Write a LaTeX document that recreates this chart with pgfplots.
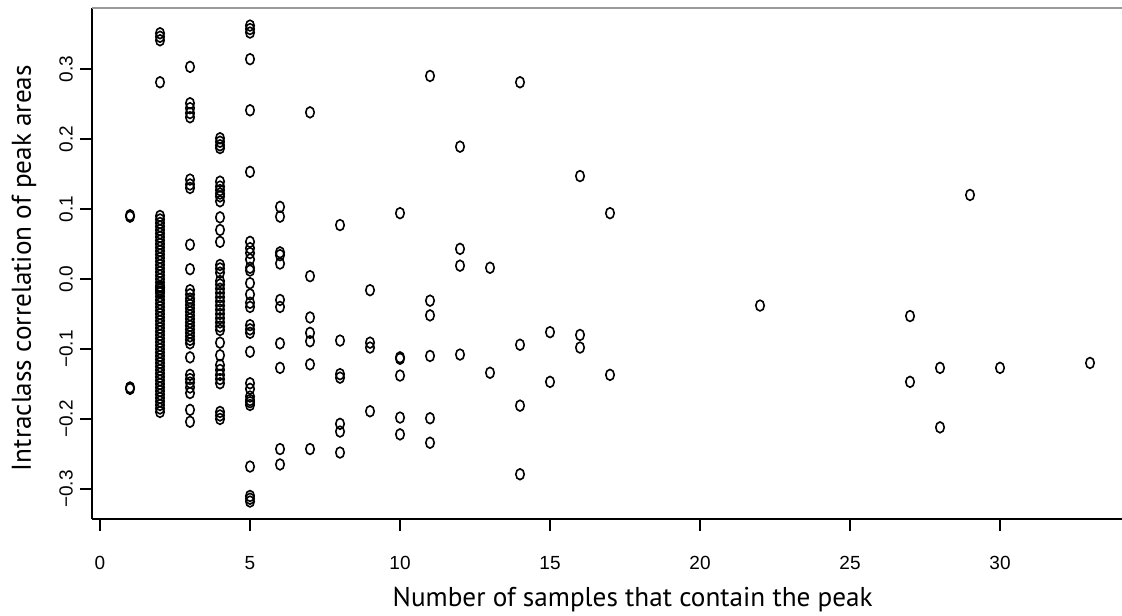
\documentclass[border=0pt]{standalone}
\usepackage{fontspec}
\setmainfont{Liberation Sans}
\newfontfamily\labelfont{PT Sans}
\usepackage{pgfplots}
\pgfplotsset{compat=1.18}
\usepackage{pgfplotstable}

% peaks: number of samples containing the peak (x) vs intraclass correlation (y)
\pgfplotstableread{
x y
1 0.091
1 0.089
1 -0.155
1 -0.157
2 0.351
2 0.346
2 0.341
2 0.281
2 0.090
2 0.085
2 0.080
2 0.075
2 0.070
2 0.065
2 0.060
2 0.055
2 0.050
2 0.045
2 0.040
2 0.035
2 0.030
2 0.025
2 0.020
2 0.015
2 0.010
2 0.005
2 0.000
2 -0.005
2 -0.010
2 -0.012
2 -0.015
2 -0.018
2 -0.020
2 -0.025
2 -0.030
2 -0.035
2 -0.040
2 -0.045
2 -0.050
2 -0.055
2 -0.060
2 -0.065
2 -0.070
2 -0.075
2 -0.080
2 -0.085
2 -0.090
2 -0.095
2 -0.100
2 -0.105
2 -0.110
2 -0.115
2 -0.120
2 -0.125
2 -0.130
2 -0.135
2 -0.140
2 -0.145
2 -0.150
2 -0.155
2 -0.160
2 -0.165
2 -0.170
2 -0.175
2 -0.180
2 -0.185
2 -0.190
3 0.303
3 0.251
3 0.244
3 0.237
3 0.231
3 0.142
3 0.135
3 0.130
3 0.049
3 0.014
3 -0.016
3 -0.022
3 -0.028
3 -0.032
3 -0.037
3 -0.042
3 -0.047
3 -0.052
3 -0.057
3 -0.062
3 -0.067
3 -0.072
3 -0.077
3 -0.082
3 -0.087
3 -0.092
3 -0.112
3 -0.137
3 -0.143
3 -0.148
3 -0.155
3 -0.163
3 -0.187
3 -0.204
4 0.201
4 0.196
4 0.191
4 0.187
4 0.139
4 0.132
4 0.127
4 0.122
4 0.118
4 0.111
4 0.088
4 0.070
4 0.053
4 0.020
4 0.015
4 0.009
4 -0.003
4 -0.008
4 -0.014
4 -0.020
4 -0.026
4 -0.032
4 -0.038
4 -0.044
4 -0.050
4 -0.056
4 -0.062
4 -0.068
4 -0.073
4 -0.091
4 -0.109
4 -0.123
4 -0.130
4 -0.137
4 -0.143
4 -0.149
4 -0.190
4 -0.195
4 -0.200
5 0.362
5 0.357
5 0.352
5 0.314
5 0.241
5 0.153
5 0.053
5 0.044
5 0.037
5 0.028
5 0.016
5 0.012
5 -0.006
5 -0.022
5 -0.034
5 -0.040
5 -0.066
5 -0.072
5 -0.077
5 -0.104
5 -0.149
5 -0.157
5 -0.168
5 -0.173
5 -0.176
5 -0.180
5 -0.268
5 -0.310
5 -0.314
5 -0.318
6 0.103
6 0.089
6 0.038
6 0.034
6 0.022
6 -0.030
6 -0.040
6 -0.092
6 -0.127
6 -0.243
6 -0.265
7 0.238
7 0.004
7 -0.055
7 -0.077
7 -0.089
7 -0.122
7 -0.243
8 0.077
8 -0.088
8 -0.136
8 -0.141
8 -0.207
8 -0.218
8 -0.248
9 -0.016
9 -0.091
9 -0.098
9 -0.189
10 0.094
10 -0.112
10 -0.114
10 -0.138
10 -0.198
10 -0.222
11 0.290
11 -0.031
11 -0.052
11 -0.110
11 -0.199
11 -0.234
12 0.189
12 0.043
12 0.019
12 -0.108
13 0.016
13 -0.134
14 0.281
14 -0.094
14 -0.181
14 -0.279
15 -0.076
15 -0.147
16 0.147
16 -0.080
16 -0.098
17 0.094
17 -0.137
22 -0.038
27 -0.053
27 -0.147
28 -0.127
28 -0.212
29 0.120
30 -0.127
33 -0.120
}\peaks

\begin{document}
\begin{tikzpicture}
\begin{axis}[
  name=ax,
  scale only axis,
  width=515pt,
  height=255.5pt,
  xmin=-0.267, xmax=34.067,
  ymin=-0.3429, ymax=0.3871,
  axis x line*=bottom,
  axis y line*=left,
  axis line style={-, black, line width=0.9pt},
  tick align=outside,
  major tick length=6pt,
  tick style={black, line width=0.9pt},
  xtick={0,5,...,30},
  ytick={-0.3,-0.2,-0.1,0,0.1,0.2,0.3},
  yticklabels={−0.3,−0.2,−0.1,0.0,0.1,0.2,0.3},
  xticklabel style={font=\fontsize{9.5}{11}\selectfont, yshift=-9pt},
  yticklabel style={font=\fontsize{9.5}{11}\selectfont, rotate=90, anchor=south},
  /pgf/number format/assume math mode=true,
  xlabel={Number of samples that contain the peak},
  ylabel={Intraclass correlation of peak areas},
  xlabel style={font=\labelfont\fontsize{13.6}{15}\selectfont, at={(axis description cs:0.525,0)}, anchor=center, yshift=-40.5pt},
  ylabel style={font=\labelfont\fontsize{13.6}{15}\selectfont, at={(axis description cs:-0.066,0.491)}, anchor=center},
  clip=false,
]
\draw[black!40, line width=0.6pt] (rel axis cs:0,1) -- (rel axis cs:1,1);
\addplot[only marks, mark=o, mark size=2.7pt,
  mark options={xscale=0.78, line width=0.8pt, black}] table[x=x, y=y] {\peaks};
\end{axis}
\pgfresetboundingbox
\path[use as bounding box] ([shift={(-46pt,-48.5pt)}]ax.south west) rectangle ([shift={(0pt,4pt)}]ax.north east);
\end{tikzpicture}
\end{document}
